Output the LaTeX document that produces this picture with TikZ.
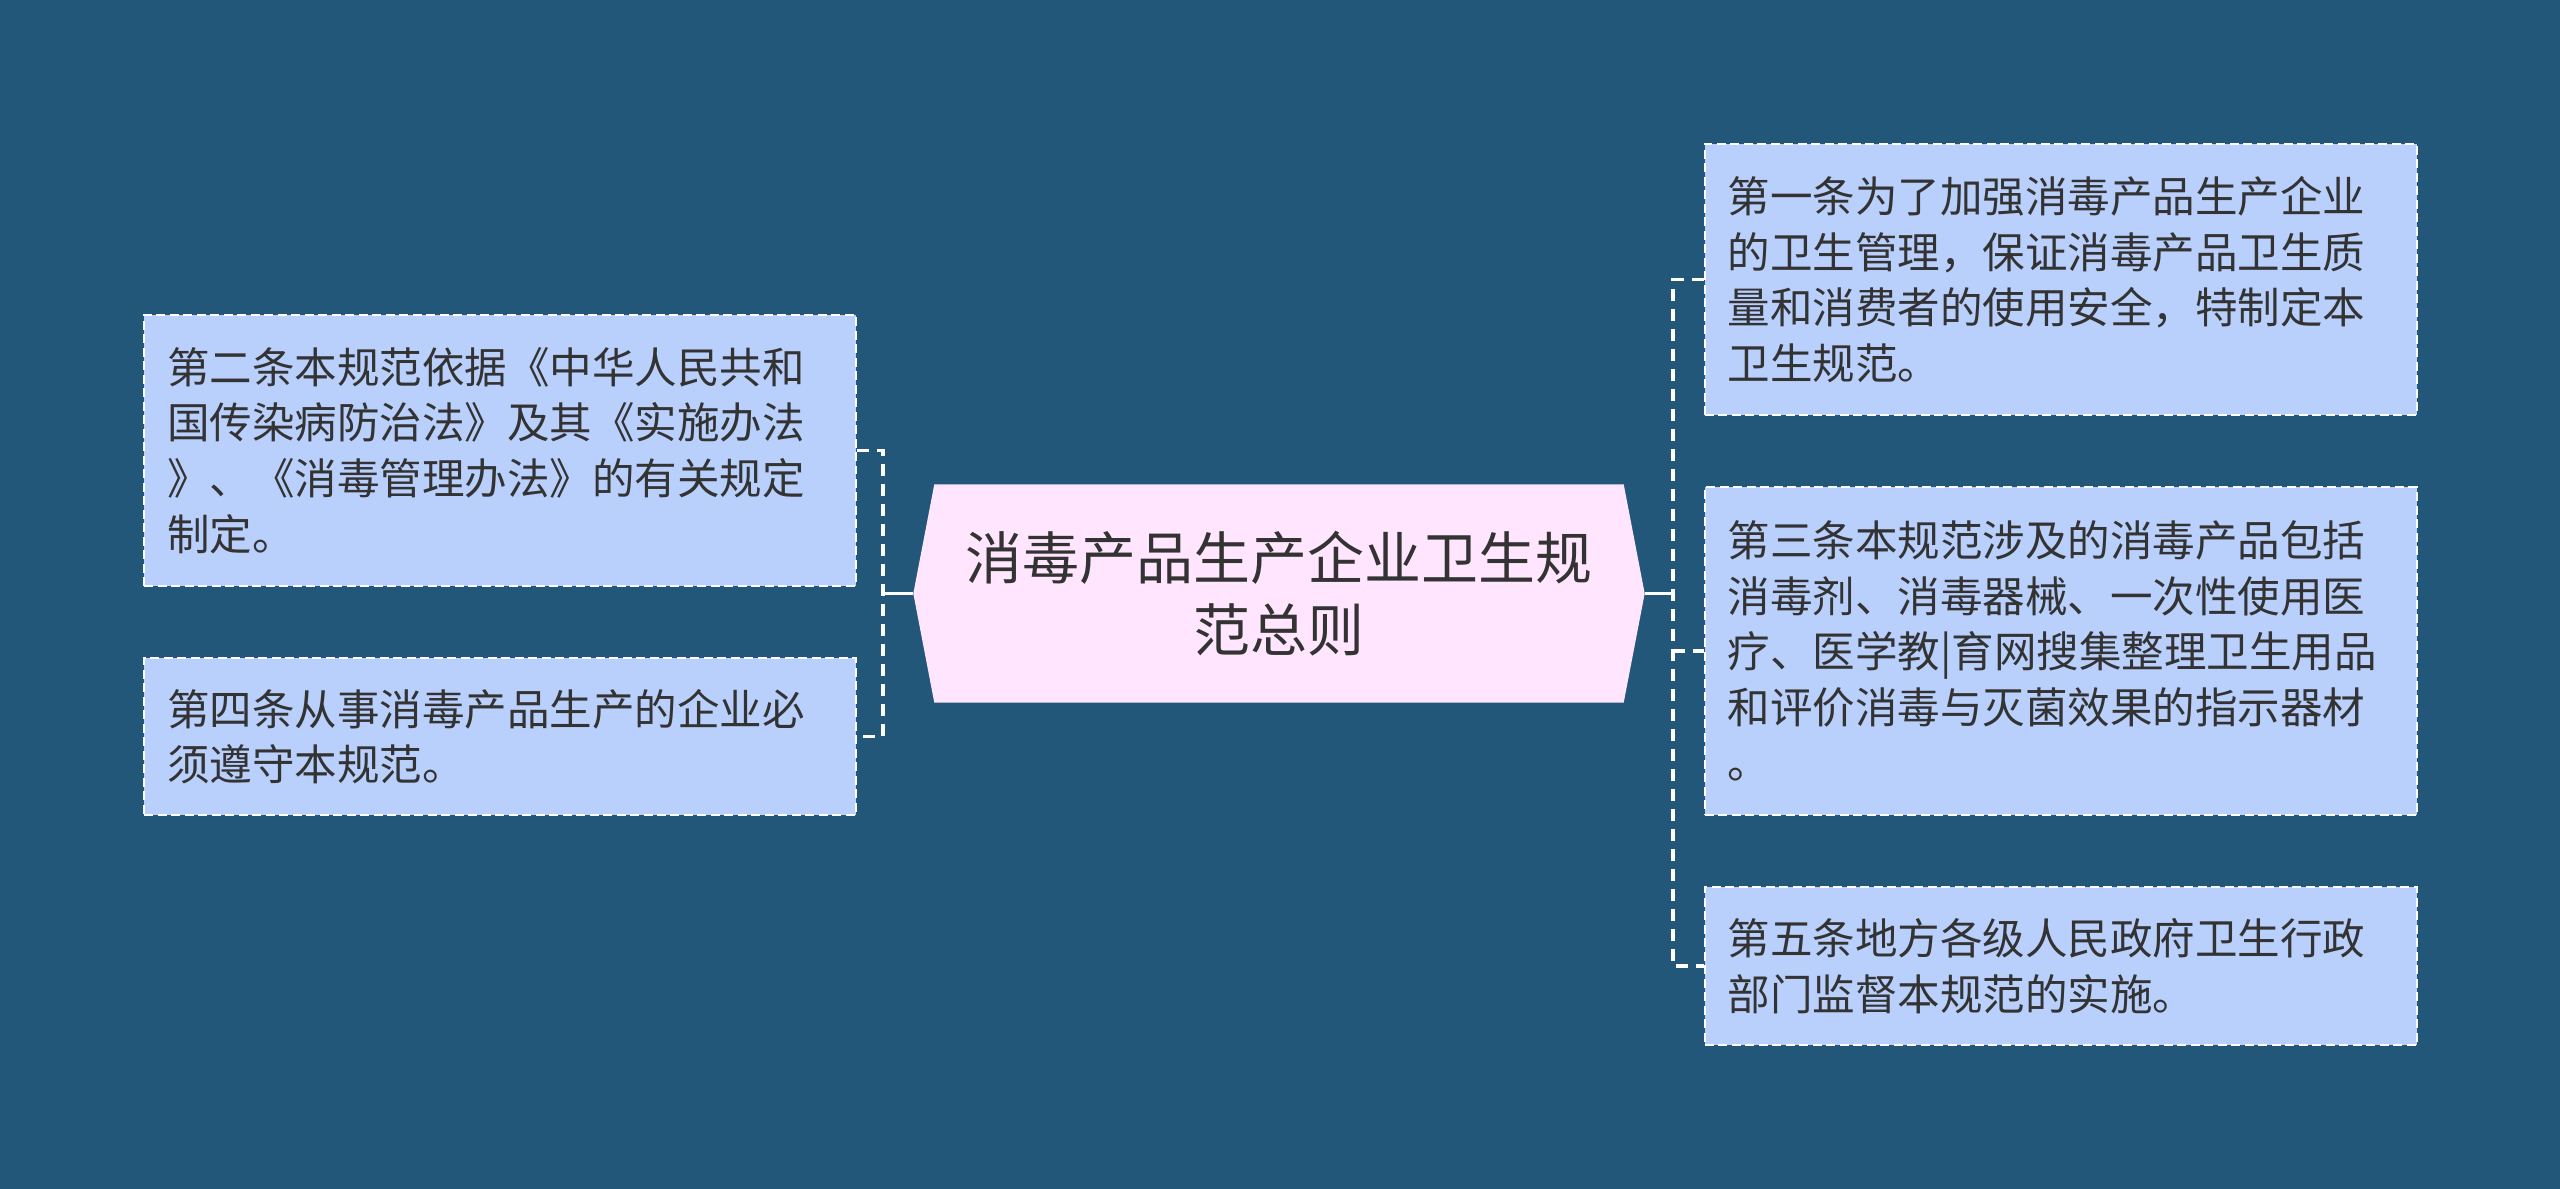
\documentclass[tikz,border=0pt]{standalone}
\usepackage{fontspec}
\setmainfont{Noto Sans CJK SC}
\usetikzlibrary{
  backgrounds,
  calc
}
\definecolor{mmBg}{HTML}{22577A}
\definecolor{mmItem}{HTML}{B9CFFC}
\definecolor{mmTitle}{HTML}{FFE6FE}
\definecolor{mmText}{HTML}{333333}
\tikzset{
  itembox/.style={
    draw=white, dash pattern=on 0.9mm off 0.45mm, line width=0.2mm,
    fill=mmItem, text=mmText, text width=66.6mm, inner xsep=2.3mm, inner ysep=0pt,
    align=left, font=\fontsize{12.1pt}{15.8pt}\selectfont
  },
  titlebox/.style={
    minimum width=73mm, minimum height=21.7mm, inner sep=0pt,
    text=mmText, align=center, font=\fontsize{16.2pt}{20.4pt}\selectfont
  },
  trunk/.style={draw=white, line width=0.35mm},
  branch/.style={draw=white, line width=0.35mm, dash pattern=on 1.2mm off 0.8mm}
}

\begin{document}
\begin{tikzpicture}[x=0.1mm, y=-0.1mm]
  \useasboundingbox (0,0) rectangle (2560,1189);
  % title in the middle
  \node[titlebox] (title) at (1279,593.5) {消毒产品生产企业卫生规\\范总则};
  \begin{scope}[on background layer]
    \fill[mmBg] (0,0) rectangle (2560,1189);
    \fill[mmTitle] ([xshift=2.1mm]title.north west) -- ([xshift=-2.1mm]title.north east)
      -- (title.east) -- ([xshift=-2.1mm]title.south east)
      -- ([xshift=2.1mm]title.south west) -- (title.west) -- cycle;
  \end{scope}
  % left side
  \node[itembox, minimum height=27.1mm] (art2) at (500,450.5)
    {第二条本规范依据《中华人民共和\\国传染病防治法》及其《实施办法\\》、《消毒管理办法》的有关规定\\制定。};
  \node[itembox, minimum height=15.7mm] (art4) at (500,736.5)
    {第四条从事消毒产品生产的企业必\\须遵守本规范。};
  % right side
  \node[itembox, minimum height=27.1mm] (art1) at (2060.5,279.5)
    {第一条为了加强消毒产品生产企业\\的卫生管理，保证消毒产品卫生质\\量和消费者的使用安全，特制定本\\卫生规范。};
  \node[itembox, minimum height=32.8mm] (art3) at (2060.5,651)
    {第三条本规范涉及的消毒产品包括\\消毒剂、消毒器械、一次性使用医\\疗、医学教|育网搜集整理卫生用品\\和评价消毒与灭菌效果的指示器材\\。};
  \node[itembox, minimum height=15.8mm] (art5) at (2060.5,966)
    {第五条地方各级人民政府卫生行政\\部门监督本规范的实施。};
  % connectors
  \coordinate (forkL) at (883,593.5);
  \coordinate (forkR) at (1673,593.5);
  \draw[trunk] (title.west) -- (forkL);
  \draw[trunk] (title.east) -- (forkR);
  \draw[branch] (art2.east) -- (art2.east -| forkL) -- (art4.east -| forkL) -- (art4.east);
  \draw[branch] (art1.west) -- (art1.west -| forkR) -- (art5.west -| forkR) -- (art5.west);
  \draw[branch] (art3.west -| forkR) -- (art3.west);
\end{tikzpicture}
\end{document}
